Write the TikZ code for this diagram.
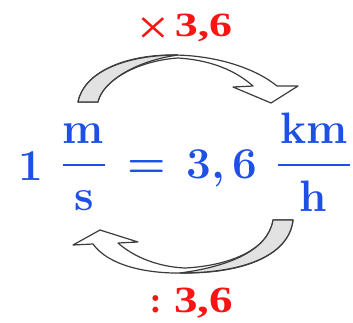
\documentclass[tikz,border=0pt]{standalone}
\usepackage{fontspec}
\newfontfamily\timesf{Liberation Serif}
\definecolor{eqblue}{RGB}{30,80,230}
\definecolor{lblred}{RGB}{250,20,20}
\definecolor{arrgray}{RGB}{226,226,226}
\definecolor{arrline}{RGB}{60,60,60}
\tikzset{
  eqtext/.style={text=eqblue, font=\fontsize{44}{50}\selectfont\bfseries, inner sep=0pt, anchor=base},
  lbl/.style={text=lblred, font=\timesf\bfseries, inner sep=0pt, anchor=base},
  fracbar/.style={draw=eqblue, line width=2.6pt},
  arrowbody/.style={draw=arrline, line width=1.2pt, fill=white, line join=round},
  arrowback/.style={draw=arrline, line width=1.2pt, fill=arrgray, line join=round},
}
\begin{document}
\begin{tikzpicture}[x=1pt,y=-1pt]
\useasboundingbox (0,0) rectangle (353,322);
% top arrow
\path[arrowbody] (78,102) .. controls (84,72) and (125,55) .. (172,55)
  .. controls (215,55) and (255,68) .. (277,86) -- (298,86) -- (271,103) -- (233,87) -- (253,86)
  .. controls (235,70) and (210,60) .. (178,58)
  .. controls (135,61) and (102,82) .. (98,102) -- cycle;
\path[arrowback] (78,102) .. controls (84,72) and (125,55) .. (178,55)
  .. controls (135,61) and (102,82) .. (98,102) -- cycle;
% bottom arrow
\path[arrowbody] (293,220) .. controls (289,255) and (245,273) .. (185,273)
  .. controls (145,274) and (108,265) .. (93,244) -- (73,245) -- (100,230) -- (138,242) -- (118,243)
  .. controls (135,258) and (160,267) .. (185,268)
  .. controls (225,266) and (268,252) .. (273,220) -- cycle;
\path[arrowback] (293,220) .. controls (289,255) and (245,273) .. (180,273)
  .. controls (225,267) and (268,252) .. (273,220) -- cycle;
% equation
\node[eqtext] (one) at (31,180) {1};
\node[eqtext] (m) at (83,143) {m};
\node[eqtext] (s) at (84,210) {s};
\node[eqtext] (eq) at (147,177) {=};
\node[eqtext] (val) at (222,178) {3,\,6};
\node[eqtext] (km) at (314,143) {km};
\node[eqtext] (h) at (313,211) {h};
\draw[fracbar] (63,165) -- (105,165);
\draw[fracbar] (278,165) -- (350,165);
% labels
\node[lbl, font=\timesf\fontsize{50}{54}\selectfont] (times) at (153,44) {\scalebox{1.12}[1]{×}};
\node[lbl, font=\timesf\fontsize{34}{40}\selectfont\bfseries] (mulval) at (203.5,36) {\scalebox{1.35}[1]{3,6}};
\node[lbl, font=\timesf\fontsize{36}{40}\selectfont\bfseries] (colon) at (155.5,312) {:};
\node[lbl, font=\timesf\fontsize{37}{40}\selectfont\bfseries] (divval) at (203.5,312) {\scalebox{1.27}[1]{3,6}};
\end{tikzpicture}
\end{document}
